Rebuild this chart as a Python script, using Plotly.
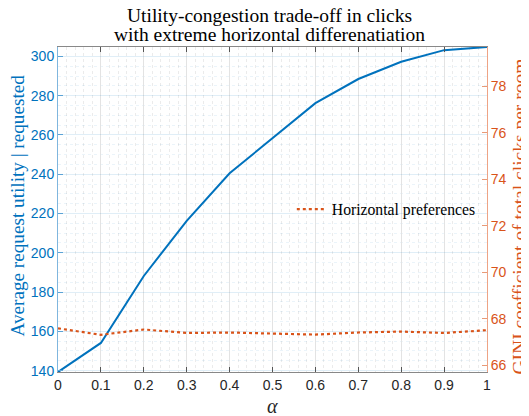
import plotly.graph_objects as go

alpha = [0, 0.1, 0.2, 0.3, 0.4, 0.5, 0.6, 0.7, 0.8, 0.9, 1.0]
utility = [139.3, 154.1, 188.2, 216.3, 240.5, 258.3, 276.2, 288.5, 297.3, 303.2, 304.8]
gini = [67.59, 67.31, 67.54, 67.39, 67.41, 67.35, 67.32, 67.41, 67.45, 67.39, 67.51]

blue = '#0072BD'
orange = '#D95319'
serif = 'Liberation Serif, Times New Roman, serif'
sans = 'Liberation Sans, Arial, sans-serif'

fig = go.Figure()
fig.add_trace(go.Scatter(
    x=alpha, y=utility, mode='lines',
    line=dict(color=blue, width=2),
    showlegend=False
))
fig.add_trace(go.Scatter(
    x=alpha, y=gini, mode='lines', yaxis='y2',
    line=dict(color=orange, width=2.2, dash='dot'),
    name='Horizontal preferences'
))

# title lines and axis titles as annotations (page has an 8px body margin)
fig.add_annotation(text='Utility-congestion trade-off in clicks', xref='paper', yref='paper',
                   x=0.5, y=1, xanchor='center', yanchor='middle', xshift=-3.5, yshift=32,
                   showarrow=False, font=dict(family=serif, size=19.5, color='black'))
fig.add_annotation(text='with extreme horizontal differenatiation', xref='paper', yref='paper',
                   x=0.5, y=1, xanchor='center', yanchor='middle', xshift=-3.5, yshift=13,
                   showarrow=False, font=dict(family=serif, size=19.5, color='black'))
fig.add_annotation(text='Average request utility | requested', xref='paper', yref='paper',
                   x=0, y=0.5, xanchor='center', yanchor='middle', xshift=-41, yshift=4,
                   textangle=-90, showarrow=False, font=dict(family=serif, size=19.2, color=blue))
fig.add_annotation(text='GINI coefficient of total clicks per room', xref='paper', yref='paper',
                   x=1, y=0.5, xanchor='center', yanchor='middle', xshift=32, yshift=-7,
                   textangle=-90, showarrow=False, font=dict(family=serif, size=19.5, color=orange))
fig.add_annotation(text='<i>α</i>', xref='paper', yref='paper',
                   x=0.5, y=0, xanchor='center', yanchor='middle', yshift=-34,
                   showarrow=False, font=dict(family=serif, size=20, color='#262626'))

fig.update_layout(
    width=521, height=408,
    margin=dict(l=50, r=42, t=39, b=44, autoexpand=False),
    paper_bgcolor='white', plot_bgcolor='white',
    xaxis=dict(
        range=[0, 1], dtick=0.1, tick0=0, automargin=False,
        ticks='inside', ticklen=5, tickcolor='#555',
        showline=True, linecolor='#888', mirror='ticks',
        showgrid=True, gridcolor='#e3e3e3', zeroline=False,
        minor=dict(dtick=0.02, showgrid=True, griddash='dot', gridcolor='#ebebeb'),
        tickfont=dict(family=sans, size=14, color='#262626')
    ),
    yaxis=dict(
        range=[139.3, 304.8], dtick=20, tick0=140, automargin=False,
        ticks='inside', ticklen=5, tickcolor='#5ba3d6',
        showline=True, linecolor='#7fb6de',
        showgrid=True, gridcolor='rgba(0,114,189,0.12)', zeroline=False,
        minor=dict(dtick=5, showgrid=True, griddash='dot', gridcolor='rgba(0,114,189,0.08)'),
        tickfont=dict(family=sans, size=14, color=blue)
    ),
    yaxis2=dict(
        range=[65.71, 79.70], dtick=2, tick0=66, automargin=False,
        overlaying='y', side='right',
        ticks='inside', ticklen=5, tickcolor='#e89a77',
        showline=True, linecolor='#eea385',
        showgrid=False, zeroline=False,
        tickfont=dict(family=sans, size=14, color=orange)
    ),
    legend=dict(
        x=0.545, y=0.5, xanchor='left', yanchor='middle',
        bgcolor='rgba(0,0,0,0)', borderwidth=0,
        font=dict(family=serif, size=15.7, color='black')
    )
)

fig.write_html("out.html")
